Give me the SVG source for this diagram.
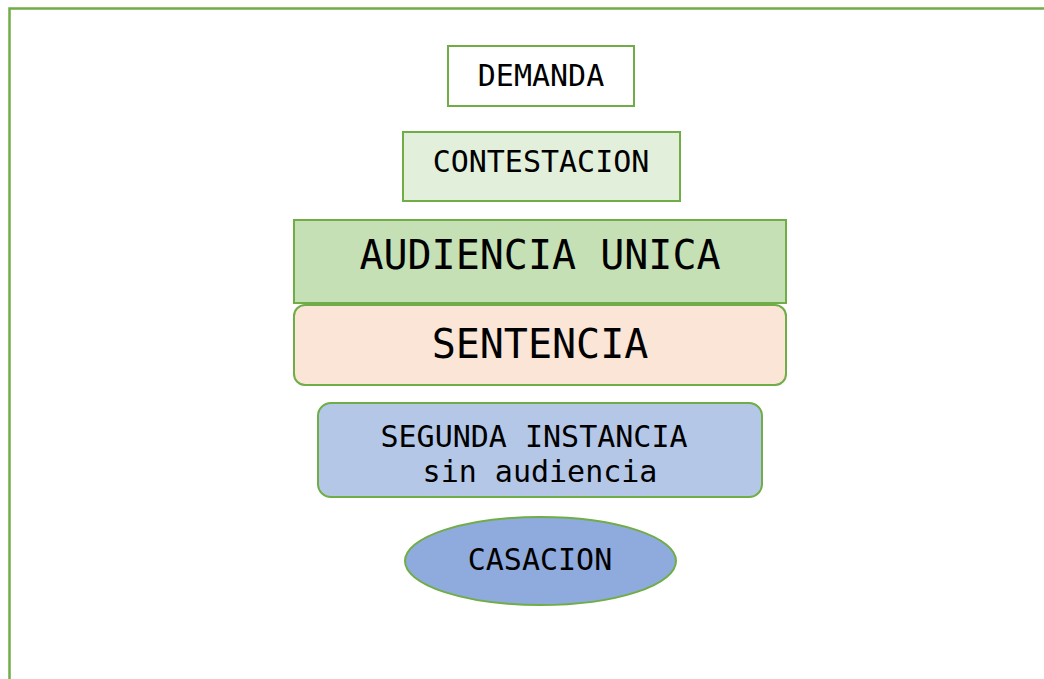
<svg xmlns="http://www.w3.org/2000/svg" width="1044" height="679" viewBox="0 0 1044 679">
<style>
.n{stroke:#70AD47;stroke-width:2}
.t{font-family:"DejaVu Sans Mono","Liberation Mono",monospace;fill:#000;text-anchor:middle}
.s30{font-size:30px}
.s40{font-size:40px}
</style>
<rect x="0" y="0" width="1044" height="679" fill="#fff"/>
<rect x="9.5" y="8.5" width="1100" height="720" fill="none" stroke="#70AD47" stroke-width="2.5"/>
<g id="connectors"></g>
<g id="demanda">
<rect class="n" x="448" y="46" width="186" height="60" fill="#fff"/>
<text class="t s30" x="541" y="86">DEMANDA</text>
</g>
<g id="contestacion">
<rect class="n" x="403" y="132" width="277" height="69" fill="#E2EFDA"/>
<text class="t s30" x="541" y="172">CONTESTACION</text>
</g>
<g id="audiencia">
<rect class="n" x="294" y="220" width="492" height="83" fill="#C5E0B4"/>
<text class="t s40" x="540" y="269">AUDIENCIA UNICA</text>
</g>
<g id="sentencia">
<rect class="n" x="294" y="305" width="492" height="80" rx="11" fill="#FBE5D6"/>
<text class="t s40" x="540" y="358">SENTENCIA</text>
</g>
<g id="segunda">
<rect class="n" x="318" y="403" width="444" height="94" rx="13" fill="#B4C7E7"/>
<text class="t s30" x="534" y="447">SEGUNDA INSTANCIA</text>
<text class="t s30" x="540" y="482">sin audiencia</text>
</g>
<g id="casacion">
<ellipse class="n" cx="540.5" cy="561" rx="135.5" ry="44" fill="#8FAADC"/>
<text class="t s30" x="540" y="570">CASACION</text>
</g>
</svg>
